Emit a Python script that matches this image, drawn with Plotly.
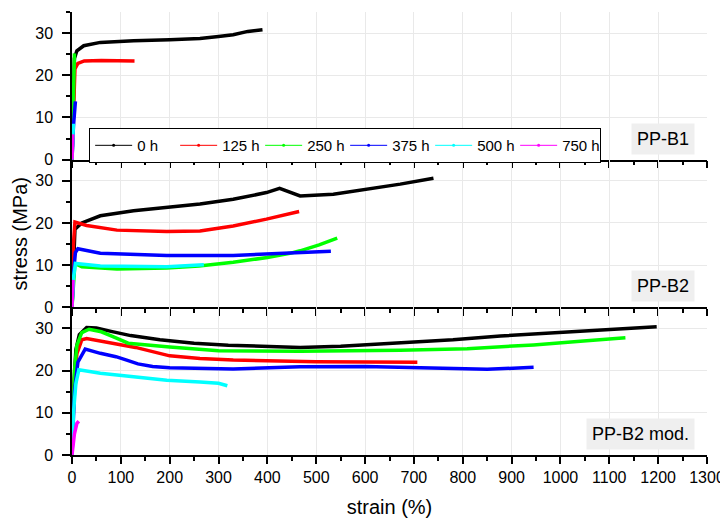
import plotly.graph_objects as go

# ---------------- data (strain %, stress MPa) ----------------
times = ["0 h", "125 h", "250 h", "375 h", "500 h", "750 h"]
colors = ["#000000", "#ff0000", "#00ff00", "#0000ff", "#00ffff", "#ff00ff"]
panel_labels = ["PP-B1", "PP-B2", "PP-B2 mod."]
x_title = "strain (%)"
y_title = "stress (MPa)"

# PP-B1
b1_0h_x = [0, 2, 5, 10, 24, 58, 126, 200, 262, 300, 330, 360, 390]
b1_0h_y = [0, 15, 24, 25.8, 27, 27.8, 28.2, 28.4, 28.7, 29.2, 29.6, 30.4, 30.8]
b1_125h_x = [0, 3, 6, 12, 25, 60, 100, 128]
b1_125h_y = [0, 15, 21.5, 22.8, 23.4, 23.5, 23.4, 23.4]
b1_250h_x = [0, 2, 4, 5]
b1_250h_y = [0, 15, 24, 25.2]
b1_375h_x = [0, 3, 7]
b1_375h_y = [0, 8, 13.8]
b1_500h_x = [0, 2, 3]
b1_500h_y = [0, 6, 8.5]
b1_750h_x = [0, 1.5]
b1_750h_y = [0, 6]

# PP-B2
b2_0h_x = [0, 3, 6, 20, 58, 126, 193, 262, 330, 398, 425, 440, 452, 467, 535, 604, 672, 740]
b2_0h_y = [0, 12, 18.5, 20, 21.7, 22.9, 23.6, 24.5, 25.6, 27.2, 28.2, 27.6, 26.9, 26.4, 26.8, 28.0, 29.2, 30.6]
b2_125h_x = [0, 3, 6, 30, 92, 194, 262, 330, 398, 440, 465]
b2_125h_y = [0, 15, 20.2, 19.4, 18.3, 18.0, 18.1, 19.3, 20.9, 21.9, 22.7]
b2_250h_x = [0, 3, 6, 20, 92, 194, 260, 330, 400, 446, 467, 506, 543]
b2_250h_y = [0, 7, 10.4, 9.6, 9.1, 9.3, 9.8, 10.7, 11.8, 12.8, 13.4, 14.8, 16.4]
b2_375h_x = [0, 3, 7, 12, 58, 194, 330, 465, 530]
b2_375h_y = [0, 8, 13, 13.9, 12.8, 12.3, 12.3, 13.0, 13.3]
b2_500h_x = [0, 3, 7, 58, 194, 270]
b2_500h_y = [0, 7, 10.4, 9.8, 9.6, 10.1]
b2_750h_x = [0, 2]
b2_750h_y = [0, 6.5]

# PP-B2 mod.
b3_0h_x = [0, 3, 8, 15, 30, 50, 80, 120, 180, 250, 320, 400, 467, 550, 672, 780, 877, 980, 1082, 1197]
b3_0h_y = [0, 15, 25, 28.5, 30.2, 30.1, 29.3, 28.3, 27.3, 26.5, 26.0, 25.7, 25.5, 25.8, 26.6, 27.3, 28.2, 28.9, 29.7, 30.4]
b3_125h_x = [0, 5, 10, 20, 30, 60, 130, 200, 262, 330, 500, 707]
b3_125h_y = [0, 18, 24, 27.3, 27.6, 27.0, 25.5, 23.5, 22.9, 22.5, 22.1, 22.0]
b3_250h_x = [0, 5, 10, 20, 35, 60, 85, 115, 200, 300, 467, 672, 809, 945, 1047, 1133]
b3_250h_y = [0, 20, 26, 29, 29.8, 29.2, 28.0, 26.5, 25.6, 24.7, 24.6, 24.8, 25.2, 26.1, 27.0, 27.8]
b3_375h_x = [0, 5, 12, 27, 58, 90, 112, 135, 165, 200, 330, 467, 600, 750, 850, 945]
b3_375h_y = [0, 15, 22, 25.1, 24.1, 23.3, 22.5, 21.6, 21.0, 20.7, 20.4, 20.9, 21.0, 20.5, 20.3, 20.8]
b3_500h_x = [0, 3, 8, 14, 58, 126, 194, 262, 300, 318]
b3_500h_y = [0, 10, 17, 20.2, 19.4, 18.5, 17.7, 17.3, 17.0, 16.4]
b3_750h_x = [0, 5, 10, 14]
b3_750h_y = [0, 5, 7.5, 8]

panels = [
    [(b1_0h_x, b1_0h_y), (b1_125h_x, b1_125h_y), (b1_250h_x, b1_250h_y),
     (b1_375h_x, b1_375h_y), (b1_500h_x, b1_500h_y), (b1_750h_x, b1_750h_y)],
    [(b2_0h_x, b2_0h_y), (b2_125h_x, b2_125h_y), (b2_250h_x, b2_250h_y),
     (b2_375h_x, b2_375h_y), (b2_500h_x, b2_500h_y), (b2_750h_x, b2_750h_y)],
    [(b3_0h_x, b3_0h_y), (b3_125h_x, b3_125h_y), (b3_250h_x, b3_250h_y),
     (b3_375h_x, b3_375h_y), (b3_500h_x, b3_500h_y), (b3_750h_x, b3_750h_y)],
]

FONT = "Liberation Sans, Arial, sans-serif"
fig = go.Figure()

# legend proxies (thin lines)
for t, c in zip(times, colors):
    fig.add_trace(go.Scatter(x=[None], y=[None], mode="lines+markers", name=t,
                             line=dict(color=c, width=1), marker=dict(size=3, color=c),
                             xaxis="x", yaxis="y", showlegend=True))

for p, series in enumerate(panels):
    ax = "" if p == 0 else str(p + 1)
    for (xs, ys), t, c in zip(series, times, colors):
        fig.add_trace(go.Scatter(x=xs, y=ys, mode="lines", name=t, showlegend=False,
                                 line=dict(color=c, width=3.5),
                                 xaxis="x" + ax, yaxis="y" + ax))

domains = [[2/3, 1], [1/3, 2/3], [0, 1/3]]
grid_c = "#e9e9e9"
layout = dict(
    width=720, height=519,
    margin=dict(l=64, r=21, t=4, b=72),
    paper_bgcolor="white", plot_bgcolor="white",
    font=dict(family=FONT, size=16, color="black"),
    showlegend=True,
    legend=dict(orientation="h", x=0.027, y=0.738, xanchor="left", yanchor="top",
                bgcolor="white", bordercolor="black", borderwidth=1,
                font=dict(size=15), itemwidth=37, entrywidth=33,
                tracegroupgap=0),
)

for p in range(3):
    n = "" if p == 0 else str(p + 1)
    yref = "y" + n
    xref = "x" + n
    layout["xaxis" + n] = dict(
        domain=[0, 1], anchor=yref, range=[0, 1300], dtick=100, tick0=0,
        showline=True, linecolor="black", linewidth=1.5,
        ticks="outside", ticklen=7, tickwidth=1.5, tickcolor="black",
        minor=dict(ticks="outside", ticklen=4, dtick=50, tickcolor="black", tickwidth=1.5, showgrid=False),
        showgrid=True, gridcolor=grid_c, gridwidth=1, zeroline=False,
        showticklabels=(p == 2),
        tickfont=dict(size=16),
        **({} if p == 0 else {"matches": "x"}),
    )
    layout["yaxis" + n] = dict(
        domain=domains[p], anchor=xref, range=[0, 35], dtick=10, tick0=0,
        showline=True, linecolor="black", linewidth=1.5,
        ticks="outside", ticklen=8, tickwidth=1.5, tickcolor="black",
        minor=dict(ticks="outside", ticklen=4, dtick=5, tickcolor="black", tickwidth=1.5, showgrid=False),
        showgrid=True, gridcolor=grid_c, gridwidth=1, zeroline=False,
        tickfont=dict(size=16), ticklabelstandoff=6,
    )
    layout["yaxis" + str(p + 4)] = dict(
        overlaying=yref, side="right", anchor=xref, range=[0, 35], dtick=10, tick0=0,
        showline=True, linecolor="black", linewidth=1.5,
        ticks="inside", ticklen=7, tickwidth=1.5, tickcolor="black",
        minor=dict(ticks="inside", ticklen=4, dtick=5, tickcolor="black", tickwidth=1.5),
        showgrid=False, zeroline=False, showticklabels=False,
    )

layout["xaxis4"] = dict(
    overlaying="x", side="top", anchor="y", range=[0, 1300], dtick=100, tick0=0,
    showline=True, linecolor="black", linewidth=1.5,
    ticks="inside", ticklen=7, tickwidth=1.5, tickcolor="black",
    minor=dict(ticks="inside", ticklen=4, dtick=50, tickcolor="black", tickwidth=1.5),
    showgrid=False, zeroline=False, showticklabels=False,
)

layout["xaxis3"]["title"] = dict(text=x_title, font=dict(size=20), standoff=15)

fig.update_layout(**layout)

# y-axis title as a rotated annotation
fig.add_annotation(text=y_title, textangle=-90, x=-0.082, y=0.5, xref="paper", yref="paper",
                   xanchor="center", yanchor="middle", showarrow=False,
                   font=dict(size=20, color="black", family=FONT))

for k, lab in enumerate(panel_labels):
    n = "" if k == 0 else str(k + 1)
    fig.add_annotation(text=lab, x=0.981, y=0.034, xref="x" + n + " domain", yref="y" + n + " domain",
                       xanchor="right", yanchor="bottom",
                       showarrow=False, bgcolor="#efefef", borderpad=5,
                       font=dict(size=18, color="black", family=FONT))

fig.write_html("out.html")
